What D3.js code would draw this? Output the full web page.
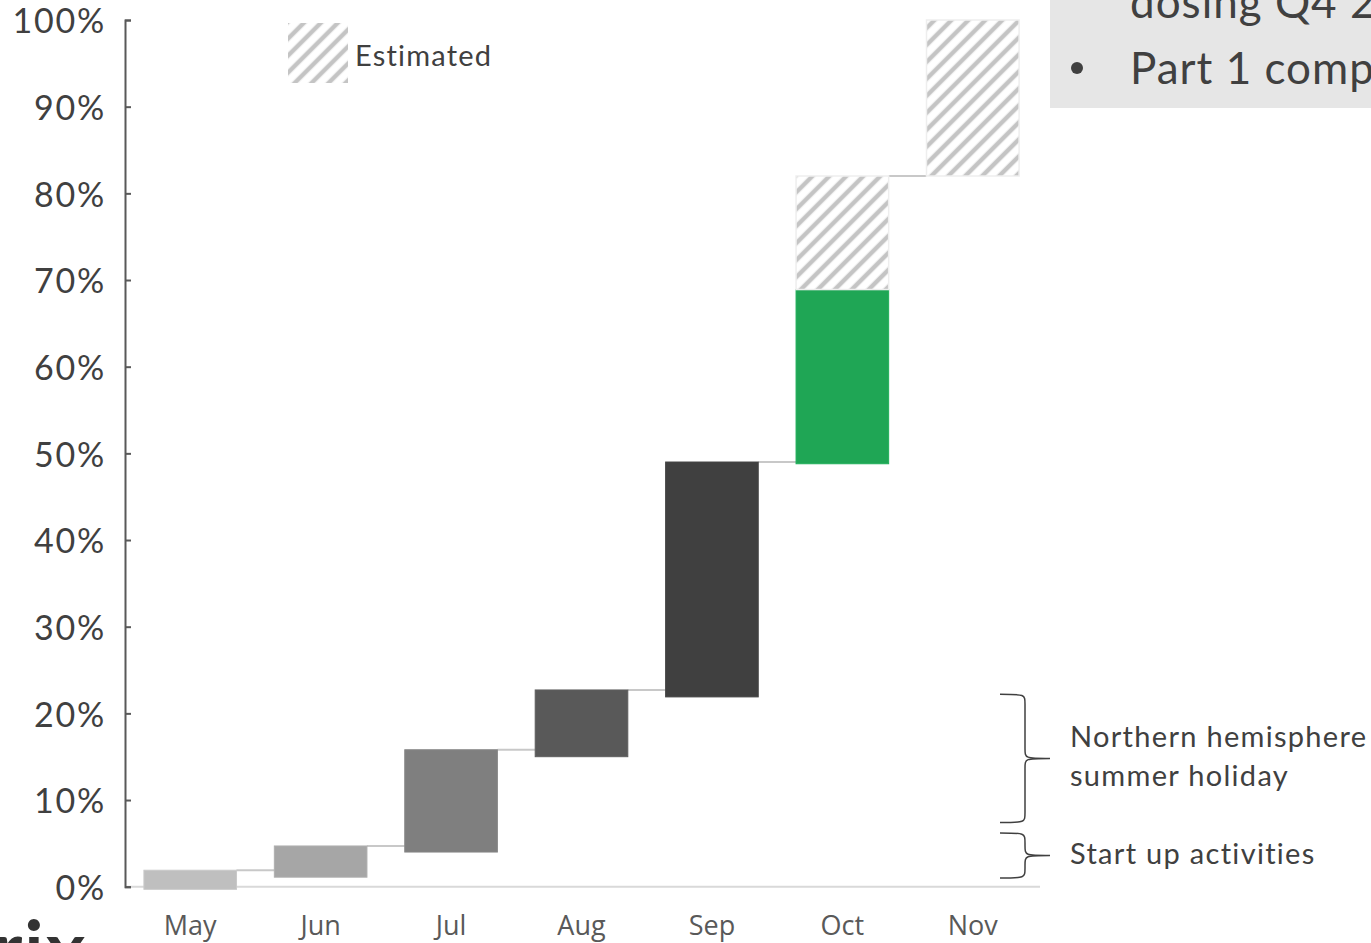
<!DOCTYPE html>
<html>
<head>
<meta charset="utf-8">
<script src="https://cdn.jsdelivr.net/npm/d3@7"></script>
<style>
  html, body { margin: 0; padding: 0; background: #fff; overflow: hidden; }
  svg { display: block; }
</style>
</head>
<body>
<svg id="chart" width="1371" height="943"></svg>
<script>
// ---- data ----
const months = ["May", "Jun", "Jul", "Aug", "Sep", "Oct", "Nov"];
const actualStart = [-0.3, 1.1, 4.0, 15.0, 21.9, 48.8, null];
const actualEnd   = [1.9, 4.7, 15.8, 22.7, 49.0, 68.9, null];
const estStart    = [null, null, null, null, null, 68.9, 82.0];
const estEnd      = [null, null, null, null, null, 82.0, 100.0];
const yTicks = [0, 10, 20, 30, 40, 50, 60, 70, 80, 90, 100];
const legendLabel = "Estimated";
const braceNotes = [
  { from: 7.4, to: 22.2, lines: ["Northern hemisphere", "summer holiday"] },
  { from: 1.0, to: 6.2, lines: ["Start up activities"] }
];
const boxLines = ["dosing Q4 2020", "Part 1 completion"];
const barColors = ["#bfbfbf", "#a6a6a6", "#7f7f7f", "#595959", "#404040", "#1fa655"];

// ---- layout ----
const svg = d3.select("#chart");
const x = d3.scaleBand().domain(months).range([125, 1038]).paddingInner(0.29).paddingOuter(0.145);
const y = d3.scaleLinear().domain([0, 100]).range([886.7, 20]);

const defs = svg.append("defs");
const pat = defs.append("pattern")
  .attr("id", "hatch").attr("patternUnits", "userSpaceOnUse")
  .attr("width", 12).attr("height", 12)
  .attr("patternTransform", "rotate(45)");
pat.append("rect").attr("width", 12).attr("height", 12).attr("fill", "#fff");
pat.append("line").attr("x1", 3).attr("y1", 0).attr("x2", 3).attr("y2", 12)
  .attr("stroke", "#c4c4c4").attr("stroke-width", 4.5);

// top-right box
svg.append("rect").attr("x", 1050).attr("y", 0).attr("width", 330).attr("height", 108).attr("fill", "#e6e6e6");
svg.append("text").attr("x", 1130).attr("y", 18).text(boxLines[0])
  .attr("font-family", "Lato").attr("font-size", 44).attr("fill", "#404040").attr("letter-spacing", 1);
svg.append("circle").attr("cx", 1077).attr("cy", 68).attr("r", 6).attr("fill", "#404040");
svg.append("text").attr("x", 1130).attr("y", 84).text(boxLines[1])
  .attr("font-family", "Lato").attr("font-size", 44).attr("fill", "#404040").attr("letter-spacing", 1);

// baseline
svg.append("line").attr("x1", 125).attr("x2", 1040).attr("y1", y(0)).attr("y2", y(0))
  .attr("stroke", "#d9d9d9").attr("stroke-width", 2);

// connectors
const tops = months.map((m, i) => Math.max(actualEnd[i] ?? -Infinity, estEnd[i] ?? -Infinity));
const conn = [];
for (let i = 0; i < months.length - 1; i++) conn.push({ i, v: tops[i] });
svg.append("g").selectAll("line").data(conn).join("line")
  .attr("x1", d => x(months[d.i]) + x.bandwidth())
  .attr("x2", d => x(months[d.i + 1]))
  .attr("y1", d => y(d.v)).attr("y2", d => y(d.v))
  .attr("stroke", "#c8c8c8").attr("stroke-width", 2);

// actual bars
const actual = months.map((m, i) => ({ m, i, s: actualStart[i], e: actualEnd[i] })).filter(d => d.s !== null);
svg.append("g").selectAll("rect").data(actual).join("rect")
  .attr("x", d => x(d.m)).attr("width", x.bandwidth())
  .attr("y", d => y(d.e)).attr("height", d => y(d.s) - y(d.e))
  .attr("fill", d => barColors[d.i])
  .attr("stroke", d => d3.color(barColors[d.i]).brighter(0.15)).attr("stroke-width", 1);

// estimated bars
const est = months.map((m, i) => ({ m, i, s: estStart[i], e: estEnd[i] })).filter(d => d.s !== null);
svg.append("g").selectAll("rect").data(est).join("rect")
  .attr("x", d => x(d.m)).attr("width", x.bandwidth())
  .attr("y", d => y(d.e)).attr("height", d => y(d.s) - y(d.e))
  .attr("fill", "url(#hatch)").attr("stroke", "#eeeeee").attr("stroke-width", 1.5);

// y axis
const yAxis = d3.axisLeft(y).tickValues(yTicks).tickFormat(d => d + "%")
  .tickSizeInner(-6).tickSizeOuter(-6).tickPadding(19);
const gy = svg.append("g").attr("transform", "translate(125,0)").call(yAxis);
gy.select(".domain").attr("stroke", "#595959").attr("stroke-width", 2);
gy.selectAll(".tick line").attr("stroke", "#595959").attr("stroke-width", 2);
gy.selectAll(".tick text").attr("font-family", "Lato").attr("font-size", 34)
  .attr("letter-spacing", 1.8).attr("fill", "#404040").attr("dy", "0.38em");

// x axis labels
const xAxis = d3.axisBottom(x).tickSize(0).tickPadding(29);
const gx = svg.append("g").attr("transform", `translate(0,${y(0)})`).call(xAxis);
gx.select(".domain").remove();
gx.selectAll(".tick text").attr("font-family", "Open Sans").attr("font-size", 27).attr("fill", "#595959");

// legend
svg.append("rect").attr("x", 288).attr("y", 23).attr("width", 60).attr("height", 60).attr("fill", "url(#hatch)");
svg.append("text").attr("x", 355).attr("y", 66).text(legendLabel)
  .attr("font-family", "Lato").attr("font-size", 29).attr("letter-spacing", 1.2).attr("fill", "#404040");

// braces
function bracePath(x0, y0, y1, w) {
  const ym = (y0 + y1) / 2, xm = x0 + w * 0.5, xt = x0 + w;
  return `M${x0},${y0} C${xm},${y0} ${xm},${y0} ${xm},${y0 + 10}` +
         ` L${xm},${ym - 10} C${xm},${ym} ${xm},${ym} ${xt},${ym}` +
         ` M${xm},${ym + 10} C${xm},${ym} ${xm},${ym} ${xt},${ym}` +
         ` M${xm},${ym + 10} L${xm},${y1 - 10} C${xm},${y1} ${xm},${y1} ${x0},${y1}`;
}
const gb = svg.append("g");
braceNotes.forEach(b => {
  const ya = y(b.to), yb = y(b.from);
  gb.append("path").attr("d", bracePath(1000, ya, yb, 50))
    .attr("fill", "none").attr("stroke", "#404040").attr("stroke-width", 1.5);
  const ym = (ya + yb) / 2;
  const n = b.lines.length;
  b.lines.forEach((t, k) => {
    gb.append("text").attr("x", 1070).attr("y", ym + (k - (n - 1) / 2) * 39 + 8.5)
      .text(t).attr("font-family", "Lato").attr("font-size", 29).attr("letter-spacing", 1.3)
      .attr("fill", "#404040");
  });
});

// cut-off logo text bottom-left
svg.append("text").attr("x", -6).attr("y", 976).text("rix")
  .attr("font-family", "Lato").attr("font-weight", 700).attr("font-size", 76)
  .attr("letter-spacing", 2).attr("fill", "#333");
</script>
</body>
</html>
